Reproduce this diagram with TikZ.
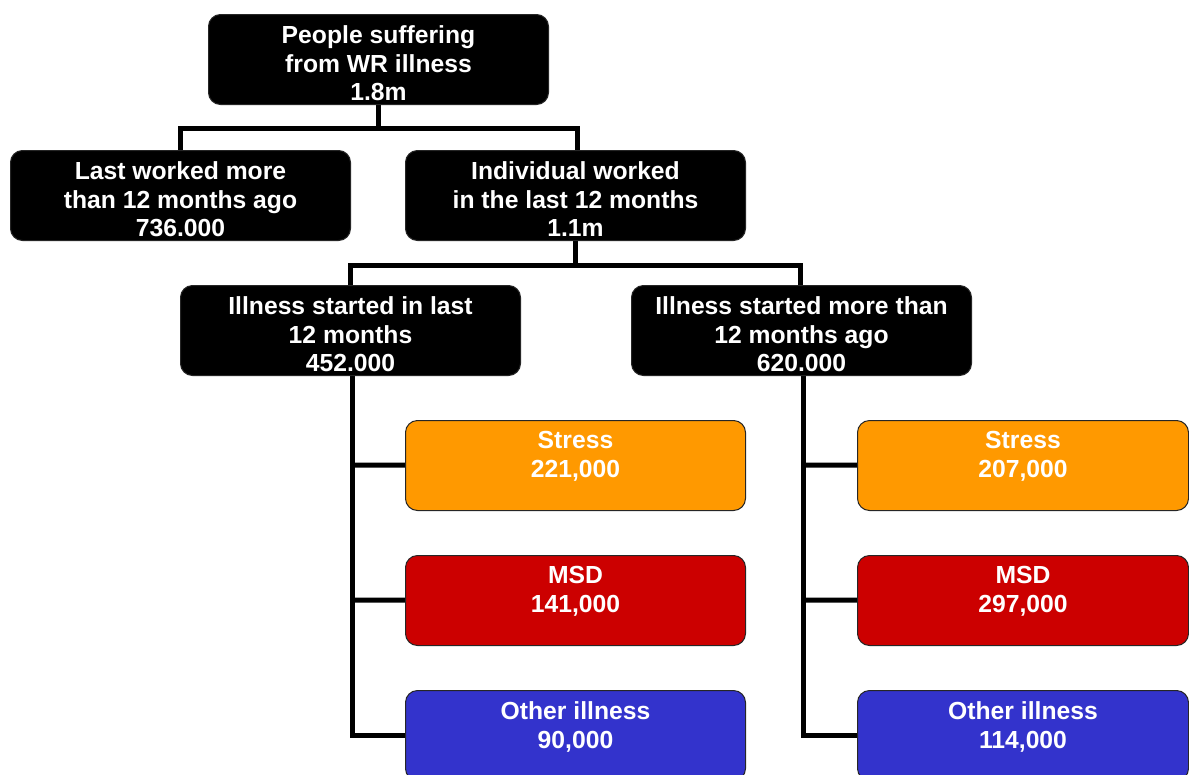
\documentclass[tikz,border=0pt]{standalone}
\usepackage{fontspec}
\setmainfont{Liberation Sans}
\usetikzlibrary{backgrounds}
\begin{document}
\begin{tikzpicture}[x=1pt,y=-1pt,
  boxbase/.style={draw=black!85, line width=1pt, rounded corners=12pt, minimum width=340pt, minimum height=90pt, inner sep=0pt, anchor=north west},
  blackbox/.style={boxbase, fill=black},
  stressbox/.style={boxbase, fill={rgb,255:red,255;green,153;blue,0}},
  msdbox/.style={boxbase, fill={rgb,255:red,204;green,0;blue,0}},
  otherbox/.style={boxbase, fill={rgb,255:red,51;green,51;blue,204}},
  lbl/.style={anchor=north, text=white, align=center, inner sep=0pt, font=\fontsize{24.7}{28.6}\selectfont\bfseries},
  conn/.style={line width=5pt, line join=miter}
]
\useasboundingbox (0,0) rectangle (1189,774);

% boxes
\node[blackbox] (top) at (208,14) {};
\node[blackbox] (lw) at (10,150) {};
\node[blackbox] (iw) at (405,150) {};
\node[blackbox] (il) at (180,285) {};
\node[blackbox] (im) at (631,285) {};
\node[stressbox] (s1) at (405,420) {};
\node[msdbox] (m1) at (405,555) {};
\node[otherbox] (o1) at (405,690) {};
\node[stressbox, minimum width=331pt] (s2) at (857,420) {};
\node[msdbox, minimum width=331pt] (m2) at (857,555) {};
\node[otherbox, minimum width=331pt] (o2) at (857,690) {};

% labels
\node[lbl] (ttop) at ([yshift=-11.5pt]top.north) {People suffering\\from WR illness\\1.8m};
\node[lbl] (tlw) at ([yshift=-11.5pt]lw.north) {Last worked more\\than 12 months ago\\736.000};
\node[lbl] (tiw) at ([yshift=-11.5pt]iw.north) {Individual worked\\in the last 12 months\\1.1m};
\node[lbl] (til) at ([yshift=-11.5pt]il.north) {Illness started in last\\12 months\\452.000};
\node[lbl] (tim) at ([yshift=-11.5pt]im.north) {Illness started more than\\12 months ago\\620.000};
\node[lbl] (ts1) at ([yshift=-11.5pt]s1.north) {Stress\\221,000};
\node[lbl] (tm1) at ([yshift=-11.5pt]m1.north) {MSD\\141,000};
\node[lbl] (to1) at ([yshift=-11.5pt]o1.north) {Other illness\\90,000};
\node[lbl] (ts2) at ([yshift=-11.5pt]s2.north) {Stress\\207,000};
\node[lbl] (tm2) at ([yshift=-11.5pt]m2.north) {MSD\\297,000};
\node[lbl] (to2) at ([yshift=-11.5pt]o2.north) {Other illness\\114,000};

% connectors
\begin{scope}[on background layer]
\coordinate (j1) at (378,128);
\draw[conn] (top.center -| j1) -- (j1);
\draw[conn] (lw.center -| 180,0) |- (j1) -| (iw.center -| 577,0);
\coordinate (j2) at (575,265);
\draw[conn] (iw.center -| j2) -- (j2);
\draw[conn] (il.center -| 350,0) |- (j2) -| (im.center -| 800,0);

\draw[conn] (il.center -| 352,0) |- (o1.center);
\draw[conn] (352,465) -- (s1.center);
\draw[conn] (352,600) -- (m1.center);

\draw[conn] (im.center -| 803,0) |- (o2.center);
\draw[conn] (803,465) -- (s2.center);
\draw[conn] (803,600) -- (m2.center);
\end{scope}
\end{tikzpicture}
\end{document}
